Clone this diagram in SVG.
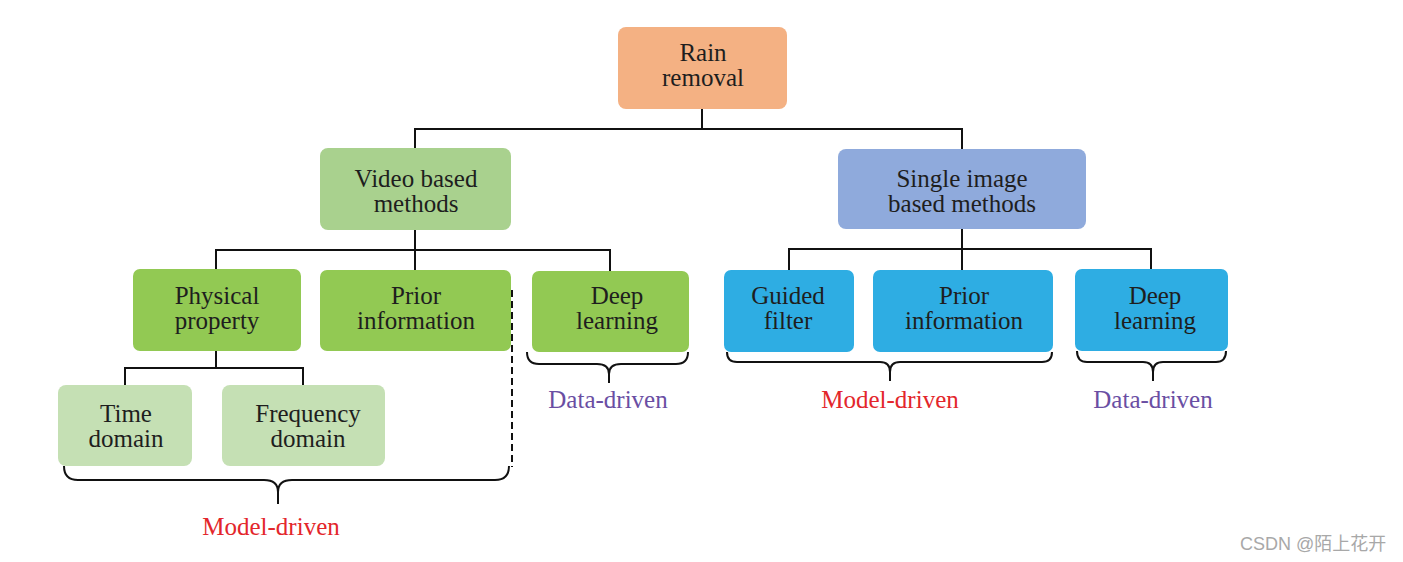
<svg xmlns="http://www.w3.org/2000/svg" width="1403" height="562" viewBox="0 0 1403 562">
<style>
.t{font-family:"Liberation Serif","Times New Roman",serif;font-size:25px;fill:#1e1e1e;text-anchor:middle}
.red{fill:#e3262b}
.pur{fill:#6a4ea3}
.c{fill:none;stroke:#111;stroke-width:2}
.wm{font-family:"Liberation Sans","Noto Sans CJK SC",sans-serif;font-size:18px;fill:#a8a8a8}
</style>
<rect width="1403" height="562" fill="#fff"/>
<g id="connectors" class="c">
<path d="M702,109 V129 M415,148 V129 H962 V149"/>
<path d="M415,230 V250 M216,269 V250 H610 V271 M415,250 V270"/>
<path d="M216,351 V368 M125,385 V368 H303 V385"/>
<path d="M962,229 V249 M789,270 V249 H1151 V269 M962,249 V270"/>
<path d="M512,290 V467" stroke-dasharray="7,4"/>
<path d="M64,466 Q64,480 78,480 H264 Q278,480 278,492 V504 M278,492 Q278,480 292,480 H495 Q509,480 509,466"/>
<path d="M527,352 Q527,364 539,364 H597 Q609,364 609,374 V383 M609,374 Q609,364 621,364 H676 Q688,364 688,352"/>
<path d="M727,352 Q727,362 737,362 H880 Q890,362 890,372 V381 M890,372 Q890,362 900,362 H1042 Q1052,362 1052,352"/>
<path d="M1077,351 Q1077,362 1087,362 H1143 Q1153,362 1153,372 V381 M1153,372 Q1153,362 1163,362 H1216 Q1226,362 1226,351"/>
</g>
<g id="rain">
<rect x="618" y="27" width="169" height="82" rx="8" fill="#f4b183"/>
<text class="t" x="703" y="61">Rain</text>
<text class="t" x="703" y="86">removal</text>
</g>
<g id="video">
<rect x="320" y="148" width="191" height="82" rx="8" fill="#a9d18e"/>
<text class="t" x="416" y="187">Video based</text>
<text class="t" x="416" y="212">methods</text>
</g>
<g id="single">
<rect x="838" y="149" width="248" height="80" rx="8" fill="#8faadc"/>
<text class="t" x="962" y="187">Single image</text>
<text class="t" x="962" y="212">based methods</text>
</g>
<g id="physical">
<rect x="133" y="269" width="168" height="82" rx="7" fill="#92c953"/>
<text class="t" x="217" y="304">Physical</text>
<text class="t" x="217" y="329">property</text>
</g>
<g id="prior-video">
<rect x="320" y="270" width="191" height="81" rx="7" fill="#92c953"/>
<text class="t" x="416" y="304">Prior</text>
<text class="t" x="416" y="329">information</text>
</g>
<g id="deep-video">
<rect x="532" y="271" width="157" height="81" rx="7" fill="#92c953"/>
<text class="t" x="617" y="304">Deep</text>
<text class="t" x="617" y="329">learning</text>
</g>
<g id="time">
<rect x="58" y="385" width="134" height="81" rx="8" fill="#c5e0b4"/>
<text class="t" x="126" y="422">Time</text>
<text class="t" x="126" y="447">domain</text>
</g>
<g id="frequency">
<rect x="222" y="385" width="163" height="81" rx="8" fill="#c5e0b4"/>
<text class="t" x="308" y="422">Frequency</text>
<text class="t" x="308" y="447">domain</text>
</g>
<g id="guided">
<rect x="724" y="270" width="130" height="82" rx="7" fill="#2eade3"/>
<text class="t" x="788" y="304">Guided</text>
<text class="t" x="788" y="329">filter</text>
</g>
<g id="prior-image">
<rect x="873" y="270" width="180" height="82" rx="7" fill="#2eade3"/>
<text class="t" x="964" y="304">Prior</text>
<text class="t" x="964" y="329">information</text>
</g>
<g id="deep-image">
<rect x="1075" y="269" width="153" height="82" rx="7" fill="#2eade3"/>
<text class="t" x="1155" y="304">Deep</text>
<text class="t" x="1155" y="329">learning</text>
</g>
<g id="labels">
<text class="t red" x="271" y="535">Model-driven</text>
<text class="t pur" x="608" y="408">Data-driven</text>
<text class="t red" x="890" y="408">Model-driven</text>
<text class="t pur" x="1153" y="408">Data-driven</text>
</g>
<text class="wm" x="1240" y="550">CSDN @陌上花开</text>
</svg>
